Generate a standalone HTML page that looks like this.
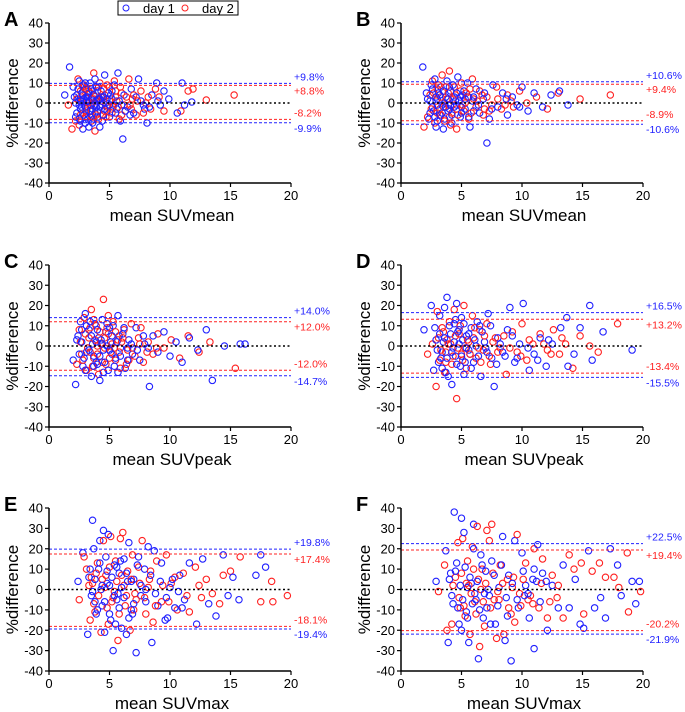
<!DOCTYPE html>
<html><head><meta charset="utf-8"><style>
html,body{margin:0;padding:0;background:#fff;}
svg{display:block;font-family:"Liberation Sans",Arial,sans-serif;}
</style></head><body>
<svg id="fig" width="685" height="712" viewBox="0 0 685 712">
<g>
<rect x="118" y="1" width="120" height="14" fill="#fff" stroke="#000" stroke-width="1"/>
<circle cx="126" cy="8" r="3" fill="none" stroke="#2020ff"/>
<text x="143" y="13" font-size="13">day 1</text>
<circle cx="185" cy="8" r="3" fill="none" stroke="#ff2020"/>
<text x="202" y="13" font-size="13">day 2</text>
</g>
</svg>
<script>
// ---- data ----
const panelLetters=["A","B","C","D","E","F"];
const xTitles=["mean SUVmean","mean SUVmean","mean SUVpeak","mean SUVpeak","mean SUVmax","mean SUVmax"];
const xTicks=[0,5,10,15,20];
const yTicks=[-40,-30,-20,-10,0,10,20,30,40];
const blueUpper=[9.8,10.6,14.0,16.5,19.8,22.5];
const blueLower=[-9.9,-10.6,-14.7,-15.5,-19.4,-21.9];
const redUpper=[8.8,9.4,12.0,13.2,17.4,19.4];
const redLower=[-8.2,-8.9,-12.0,-13.4,-18.1,-20.2];
const aBlue=[[1.3,4],[1.7,18],[2,8],[2.2,-7],[2.4,2],[2.5,11],[2.6,-3],[2.7,5],[2.8,-13],[2.9,0],[3,7],[3.1,-5],[3.2,3],[3.3,-12],[3.4,10],[3.5,-1],[3.6,6],[3.7,-8],[3.8,12],[3.9,1],[4,-4],[4.1,8],[4.2,-12],[4.3,3],[4.5,-6],[4.6,14],[4.7,0],[4.9,5],[5,-7],[5.2,2],[5.4,9],[5.6,-3],[5.7,15],[5.9,-9],[6.1,-18],[6.2,4],[6.5,-2],[6.8,7],[7,-5],[7.4,12],[7.6,1],[7.9,-3],[8.1,-10],[8.5,4],[8.9,10],[9.2,-1],[9.5,6],[9.9,2],[10.6,-5],[11,10],[11.2,-1],[11.8,0.5],[2.3,4],[2.6,-9],[3,-2],[3.3,5],[3.5,2],[3.8,-5],[4,6],[4.4,-1],[2.8,9],[3.6,-10],[4.8,-4],[5.3,-1],[2.5,-1],[3.1,1],[3.9,-2],[4.2,2],[5.1,4],[6,-1],[6.7,-6],[7.2,3],
[2.1,3],[2.3,-5],[2.4,7],[2.5,-8],[2.6,1],[2.7,-2],[2.8,4],[2.9,-6],[3,10],[3.1,3],[3.2,-8],[3.3,1],[3.4,-4],[3.5,7],[3.6,-3],[3.7,4],[3.8,-1],[3.9,8],[4,-7],[4.1,2],[4.2,-2],[4.3,6],[4.5,3],[4.6,-3],[4.8,2],[5,-1],[5.2,6],[5.5,-5],[5.8,1],[6.3,-4],[2.2,0],[2.9,2],[3.4,-7],[4.4,-9],[3,-10],[7.8,-1],[8.3,-2],[9,1]];
const aRed=[[1.6,-1],[1.9,-13],[2.2,-9],[2.4,12],[2.5,-11],[2.7,1],[2.9,9],[3.1,-4],[3.3,6],[3.5,-9],[3.7,15],[3.8,-14],[4,2],[4.2,10],[4.4,-6],[4.6,4],[4.8,-2],[5,8],[5.2,-5],[5.4,11],[5.6,1],[5.8,-8],[6,5],[6.3,-4],[6.6,12],[6.9,2],[7.2,-6],[7.6,6],[8,0],[8.4,-3],[8.8,7],[9.1,3],[9.5,-4],[10.9,-4],[11.5,6],[11.9,7],[13,1.5],[15.3,4],[3,3],[3.4,-1],[4.1,-8],[4.5,7],[5.5,3],[6.2,-1],[7,4],[3.6,0],[2.6,6],[2.8,-5],[3.2,-2],[4.3,1],[5.3,-2],[6.8,-3],
[2.3,2],[2.6,-6],[2.8,8],[3,-7],[3.2,0],[3.4,5],[3.5,-4],[3.7,2],[3.9,-6],[4,6],[4.2,-2],[4.4,3],[4.6,-4],[4.8,9],[5,1],[5.2,-3],[5.5,6],[5.7,-2],[6,-6],[6.4,3],[6.7,-1],[7.3,1],[7.8,-5],[8.2,3],[3.1,7],[3.6,-7],[4.7,-7],[5.9,8]];
const bBlue=[[1.8,18],[2.1,5],[2.3,-8],[2.5,9],[2.6,-2],[2.8,12],[2.9,-12],[3,2],[3.2,-6],[3.3,8],[3.5,-13],[3.6,0],[3.8,11],[3.9,-4],[4.1,6],[4.2,-10],[4.4,3],[4.6,-1],[4.7,13],[4.9,-7],[5.1,4],[5.3,-3],[5.5,10],[5.7,-12],[5.9,1],[6.2,7],[6.5,-5],[6.8,2],[7.1,-20],[7.3,-8],[7.6,9],[8,-2],[8.4,5],[8.8,-6],[9.2,3],[9.6,-1],[10,8],[10.5,-4],[11,5],[11.7,-2],[12.4,4],[13.1,6],[13.8,-1],[2.4,1],[2.7,-4],[3.1,5],[3.4,-1],[3.7,3],[4,-3],[4.5,1],[5,-2],[5.6,3],[6,-4],[3,-9],[4.3,9],[5.2,6],
[2.2,2],[2.4,-5],[2.6,7],[2.8,-7],[3,-1],[3.2,4],[3.4,-5],[3.5,6],[3.7,-2],[3.9,2],[4,8],[4.2,-6],[4.4,-2],[4.6,5],[4.8,1],[5,-5],[5.3,2],[5.6,-7],[6,3],[6.4,-1],[6.9,5],[7.5,-3],[2.9,3],[3.6,-8],[4.1,-1],[4.9,3],[8.7,2],[9.8,-2]];
const bRed=[[1.9,-12],[2.2,-7],[2.4,4],[2.6,11],[2.8,-10],[3,7],[3.2,-3],[3.4,14],[3.6,-9],[3.8,2],[4,16],[4.2,-5],[4.4,8],[4.6,-13],[4.8,1],[5,10],[5.2,-4],[5.4,5],[5.6,-8],[5.9,12],[6.2,-2],[6.5,6],[6.8,-6],[7.1,3],[7.5,-1],[7.9,8],[8.3,-3],[8.8,4],[9.3,-2],[9.8,6],[10.4,0],[11.2,3],[12.1,-3],[13,5],[14.8,2],[17.3,4],[2.9,1],[3.3,-6],[3.9,-1],[4.5,4],[5.3,0],[6,2],[6.9,-3],[3.1,9],[4.1,-11],
[2.5,-3],[2.7,5],[3,-5],[3.3,3],[3.5,-2],[3.7,8],[4,-7],[4.3,2],[4.6,-3],[4.9,6],[5.1,-1],[5.5,3],[5.8,-5],[6.3,1],[6.7,4],[7.3,-4],[8,2],[8.6,-1],[9.1,1],[3.9,5],[4.7,-6],[5.7,7]];
const cBlue=[[2,-7],[2.2,-19],[2.4,5],[2.6,12],[2.8,-10],[3,16],[3.1,-3],[3.3,8],[3.5,-15],[3.6,1],[3.8,11],[3.9,-8],[4.1,4],[4.2,-17],[4.4,13],[4.5,-2],[4.7,7],[4.9,-12],[5.1,2],[5.3,10],[5.5,-6],[5.7,15],[5.9,-1],[6.1,6],[6.3,-11],[6.6,3],[6.9,-4],[7.2,9],[7.5,-7],[7.9,1],[8.3,-20],[8.6,5],[9,-3],[9.5,7],[10,-5],[10.5,2],[11,-8],[11.6,4],[12.3,-2],[13,8],[13.5,-17],[14.5,0],[15.8,1],[16.2,1],[3.2,-1],[3.7,-5],[4.3,3],[4.8,0],[5.2,-4],[5.8,5],[6.5,-1],[2.7,2],[4,-9],[5,9],
[2.3,3],[2.5,-4],[2.7,8],[2.9,-6],[3.1,10],[3.3,-2],[3.5,5],[3.7,-10],[3.9,2],[4,8],[4.2,-5],[4.4,1],[4.6,-8],[4.8,11],[5,-2],[5.2,5],[5.4,-10],[5.6,2],[5.9,-5],[6.2,9],[6.5,-7],[6.8,1],[7.3,-2],[7.8,5],[8.2,-1],[3.4,12],[4.5,-13],[5.7,-13],[3,-12]];
const cRed=[[2.3,-9],[2.5,8],[2.7,-4],[2.9,14],[3.1,-12],[3.3,4],[3.5,18],[3.7,-6],[3.9,10],[4.1,-14],[4.3,1],[4.5,23],[4.7,-9],[4.9,6],[5.1,-3],[5.3,12],[5.5,-7],[5.7,3],[5.9,-11],[6.2,8],[6.5,-2],[6.8,11],[7.1,-5],[7.4,4],[7.8,-8],[8.2,2],[8.6,-4],[9,6],[9.5,-1],[10.1,3],[10.8,-6],[11.5,5],[12.4,-3],[13.3,2],[15.4,-11],[4,0],[4.6,4],[5.4,-1],[6,2],[3.4,-3],[6.6,-7],[7.6,9],
[2.6,2],[2.8,-7],[3,6],[3.2,-1],[3.4,9],[3.6,-10],[3.8,3],[4,-4],[4.2,7],[4.4,-8],[4.6,-1],[4.8,9],[5,-6],[5.2,1],[5.5,7],[5.8,-3],[6.1,4],[6.4,-9],[6.9,-1],[7.5,1],[8.1,-3],[8.9,-1],[4.9,15],[3.7,13]];
const dBlue=[[1.9,8],[2.5,20],[2.7,-12],[2.9,3],[3.1,-8],[3.2,15],[3.4,-3],[3.6,19],[3.8,24],[3.9,-15],[4.1,6],[4.2,-19],[4.4,11],[4.5,-5],[4.6,21],[4.8,1],[4.9,-10],[5,14],[5.2,-14],[5.4,5],[5.6,-2],[5.8,9],[6,-8],[6.3,12],[6.6,-15],[6.9,2],[7.2,16],[7.5,-6],[7.7,-20],[8,4],[8.4,-3],[8.8,8],[9,19],[9.4,-8],[9.8,1],[10.1,21],[10.6,-12],[11,-4],[11.5,4],[12,-10],[12.5,1],[13.2,9],[13.7,14],[13.8,-10],[14.3,-4],[14.8,9],[15.6,20],[15.8,-7],[16.7,7],[19.1,-2],[3.5,2],[4.3,-1],[5.1,3],[5.7,-4],[6.2,0],[4.7,7],[3.3,-6],[7,-1],
[2.8,9],[3,-2],[3.2,6],[3.4,-11],[3.6,4],[3.8,-6],[4,10],[4.2,-3],[4.4,2],[4.6,-9],[4.8,8],[5,-5],[5.2,11],[5.4,-1],[5.6,6],[5.8,-11],[6.1,3],[6.4,-5],[6.7,7],[7.1,-3],[7.4,10],[7.9,-9],[8.2,1],[8.6,-5],[9.2,5],[9.6,-6],[3.7,-13],[4.5,13],[5.3,-8],[6.5,10],[10.5,-1],[11.3,-7],[12.2,3]];
const dRed=[[2.2,-4],[2.6,1],[2.9,-20],[3,17],[3.2,-7],[3.4,9],[3.6,-13],[3.8,3],[4,12],[4.2,-9],[4.4,18],[4.6,-26],[4.8,6],[5,-4],[5.2,20],[5.4,-11],[5.6,2],[5.9,15],[6.2,-6],[6.5,8],[6.8,-2],[7.1,11],[7.4,-9],[7.8,4],[8.2,-1],[8.7,-14],[9.2,7],[9.6,-3],[10,11],[10.4,-7],[10.9,1],[11.5,6],[12.1,-2],[12.6,8],[13.1,-4],[13.6,1],[14.2,-11],[14.8,5],[15.6,0],[16.3,-3],[17.9,11],[4.1,1],[5.3,-1],[6,4],[3.7,-3],[6.6,-8],
[3.1,4],[3.3,-2],[3.5,7],[3.7,-8],[3.9,1],[4.3,-5],[4.5,5],[4.7,-1],[4.9,10],[5.1,-7],[5.5,3],[5.7,-4],[6.1,9],[6.4,-1],[6.9,5],[7.3,-5],[7.6,2],[8,-3],[8.5,5],[9,-1],[9.9,-5],[10.6,3],[11.8,1],[12.4,-4],[13.3,4]];
const eBlue=[[2.4,4],[2.8,18],[3.2,-22],[3.3,6],[3.5,-3],[3.7,20],[3.9,-12],[4.1,10],[4.2,24],[4.4,-8],[4.5,29],[4.6,-21],[4.8,3],[4.9,27],[5.1,-15],[5.3,-30],[5.4,12],[5.6,-5],[5.8,8],[6,-19],[6.2,15],[6.4,-22],[6.6,23],[6.8,-10],[7,5],[7.2,-31],[7.4,16],[7.6,-3],[7.9,10],[8.2,21],[8.5,-26],[8.7,19],[9,-8],[9.3,13],[9.6,-15],[10,1],[10.4,-9],[10.8,7],[11.2,-5],[11.6,13],[12.2,-17],[12.7,15],[13.2,-7],[13.8,-13],[14.4,17],[14.8,-3],[15.2,6],[15.7,-5],[17.1,7],[17.5,17],[17.9,11],[4.3,0],[5,2],[5.7,-2],[6.5,4],[3.8,-6],[8,0],[9.8,-14],[3.6,34],
[3.4,10],[3.6,-1],[3.8,5],[4,-10],[4.2,13],[4.4,2],[4.6,-6],[4.8,9],[5,-12],[5.2,6],[5.4,-3],[5.6,11],[5.8,-9],[6,1],[6.2,-4],[6.4,8],[6.6,-14],[6.8,4],[7,-7],[7.3,12],[7.6,2],[8,-6],[8.4,7],[8.8,-2],[9.2,4],[9.7,-4],[10.2,5],[10.7,-1],[11,-9],[4.7,16],[5.5,-17],[6.9,-12],[5.9,14]];
const eRed=[[2.5,-5],[2.9,16],[3.1,10],[3.4,-15],[3.6,3],[3.8,-11],[4,13],[4.3,-21],[4.5,24],[4.7,7],[4.9,-17],[5.1,26],[5.3,-4],[5.5,14],[5.7,-25],[5.9,25],[6.1,28],[6.3,-8],[6.5,9],[6.7,-20],[6.9,17],[7.1,-2],[7.4,11],[7.7,24],[8,-12],[8.3,5],[8.6,-16],[8.9,14],[9.3,-6],[9.7,17],[10.1,3],[10.6,-10],[11.1,8],[11.6,-11],[12.1,11],[12.6,-4],[13,5],[13.5,-2],[14.1,-7],[14.4,7],[15,9],[15.8,16],[17.5,-6],[18.4,4],[18.5,-6],[19.7,-3],[4.6,1],[5.4,-1],[6.2,2],[7.2,-5],[8.2,1],[3.5,6],
[3.3,2],[3.7,-7],[3.9,8],[4.1,-3],[4.4,5],[4.8,-9],[5,11],[5.2,-6],[5.6,4],[5.8,-12],[6,7],[6.4,-3],[6.8,5],[7,-10],[7.5,3],[7.9,-4],[8.4,9],[8.8,-8],[9.4,2],[9.9,-6],[10.4,6],[11.4,-3],[12.4,2]];
const fBlue=[[2.9,4],[3.7,19],[3.9,-26],[4.1,8],[4.3,-7],[4.4,38],[4.6,13],[4.8,-17],[5,35],[5.2,28],[5.4,-11],[5.6,-26],[5.8,3],[6,32],[6.2,-5],[6.4,-34],[6.6,17],[6.8,-14],[7,9],[7.3,-3],[7.5,14],[7.8,-17],[8.1,1],[8.4,26],[8.6,-25],[8.9,7],[9.1,-35],[9.4,24],[9.7,-9],[10,18],[10.3,2],[10.6,-14],[10.9,5],[11,-29],[11.3,22],[11.7,8],[12.1,-20],[12.5,2],[13,-9],[13.4,12],[13.9,-9],[14.4,5],[14.8,-17],[15.1,-19],[15.5,19],[16,-9],[16.5,-4],[16.9,-14],[17.3,20],[17.9,12],[18.2,-3],[19.1,4],[19.4,-7],[19.7,4],[5.5,1],[6.1,-2],[7.2,0],[8.7,-4],[10.2,-3],[11.2,4],
[4,5],[4.2,-3],[4.5,9],[4.7,-9],[4.9,2],[5.1,-5],[5.3,11],[5.5,-14],[5.7,6],[5.9,-7],[6.3,4],[6.5,-10],[6.7,12],[6.9,-2],[7.1,-9],[7.7,7],[8,-8],[8.3,12],[8.8,-13],[9.2,3],[9.6,-5],[10.1,9],[10.5,-2],[11,10],[11.5,-6],[12,4],[5,-20],[6,20],[7.4,-17]];
const fRed=[[3.1,-1],[3.6,12],[3.8,-20],[4.2,-17],[4.5,6],[4.7,23],[4.9,-9],[5.1,25],[5.3,-13],[5.5,14],[5.7,-22],[5.9,21],[6.1,-6],[6.3,31],[6.5,-28],[6.7,10],[6.9,-18],[7.1,29],[7.3,24],[7.5,32],[7.7,-5],[7.9,-24],[8.2,12],[8.5,-22],[8.8,5],[9.1,-12],[9.4,-16],[9.6,27],[9.9,-8],[10.3,13],[10.7,-3],[11,20],[11.4,-9],[11.7,15],[12.1,-14],[12.5,7],[12.9,-4],[13.4,-14],[13.9,17],[14.3,10],[14.9,13],[15.1,-12],[15.8,9],[16.4,13],[16.9,6],[17.6,6],[18,1],[18.7,18],[18.8,-11],[19.8,-1],[5.6,2],[6.6,0],[8,-1],[9.2,1],[10.5,-5],
[4.3,2],[4.8,-4],[5,8],[5.2,-8],[5.4,3],[5.8,-2],[6,10],[6.2,-12],[6.4,5],[6.8,-6],[7,3],[7.4,-9],[7.6,8],[8.1,-5],[8.4,3],[8.9,-9],[9.3,6],[9.8,-2],[10.1,5],[10.9,-7],[11.6,3],[12.3,-6],[13,2]];
const blueSeries=[aBlue,bBlue,cBlue,dBlue,eBlue,fBlue];
const redSeries=[aRed,bRed,cRed,dRed,eRed,fRed];

// ---- layout ----
const colX=[[49,291],[401,643]];
const rowY=[[23,183],[265,427],[508,671]];
const BLUE="#2020ff",RED="#ff2020";
const NS="http://www.w3.org/2000/svg";
const svg=document.getElementById("fig");
function mk(tag,attrs,parent){const e=document.createElementNS(NS,tag);for(const k in attrs)e.setAttribute(k,attrs[k]);(parent||svg).appendChild(e);return e;}

for(let p=0;p<6;p++){
  const [x0,x1]=colX[p%2],[yt,yb]=rowY[Math.floor(p/2)];
  const sx=v=>x0+(v-0)/20*(x1-x0);
  const sy=v=>yb-(v+40)/80*(yb-yt);
  const g=mk("g",{});
  
  
  const letter=mk("text",{x:x0-45,y:yt+3,"font-size":20,"font-weight":"bold"},g);
  letter.textContent=panelLetters[p];
  
  
  const pts=mk("g",{},g);
  
  
  const b=blueSeries[p],r=redSeries[p];
  const n=Math.max(b.length,r.length);
  for(let i=0;i<n;i++){
    if(i<b.length){const c=mk("circle",{cx:sx(b[i][0]),cy:sy(b[i][1]),r:3.2,fill:"none",stroke:BLUE,"stroke-width":1.1},pts);
      
      }
    if(i<r.length){const c=mk("circle",{cx:sx(r[i][0]),cy:sy(r[i][1]),r:3.2,fill:"none",stroke:RED,"stroke-width":1.1},pts);
      
      }
  }
  const lines=[[blueUpper[p],BLUE,"loa-upper-day1"],[redUpper[p],RED,"loa-upper-day2"],[blueLower[p],BLUE,"loa-lower-day1"],[redLower[p],RED,"loa-lower-day2"]];
  for(const [v,col,nm] of lines){
    const l=mk("line",{x1:x0,x2:x1,y1:sy(v),y2:sy(v),stroke:col,"stroke-width":1,"stroke-dasharray":"3,2"},g);
    
    
  }
  const z=mk("line",{x1:x0,x2:x1,y1:sy(0),y2:sy(0),stroke:"#000","stroke-width":1.5,"stroke-dasharray":"2,2.5"},g);
  
  
  const fmt=v=>(v>0?"+":"")+v.toFixed(1)+"%";
  const up=[[blueUpper[p],BLUE],[redUpper[p],RED]].sort((a,b)=>b[0]-a[0]);
  const lo=[[blueLower[p],BLUE],[redLower[p],RED]].sort((a,b)=>b[0]-a[0]);
  const labs=[[up[0],sy(up[0][0])-3],[up[1],sy(up[1][0])+9],[lo[0],sy(lo[0][0])-3],[lo[1],sy(lo[1][0])+9]];
  for(const [[v,col],y] of labs){
    const t=mk("text",{x:x1+3,y:y,"font-size":10.5,fill:col},g);
    t.textContent=fmt(v);
    
    
  }
  const ax=mk("path",{d:`M${x0},${yt} V${yb} H${x1}`,fill:"none",stroke:"#000","stroke-width":1.5},g);
  
  
  for(const v of yTicks){
    const tk=mk("line",{x1:x0-4,x2:x0,y1:sy(v),y2:sy(v),stroke:"#000","stroke-width":1.2},g);
    
    
    const t=mk("text",{x:x0-6,y:sy(v)+4.5,"font-size":13,"text-anchor":"end"},g);
    t.textContent=v;
    
    
  }
  for(const v of xTicks){
    const tk=mk("line",{x1:sx(v),x2:sx(v),y1:yb,y2:yb+4,stroke:"#000","stroke-width":1.2},g);
    
    
    const t=mk("text",{x:sx(v),y:yb+17,"font-size":13,"text-anchor":"middle"},g);
    t.textContent=v;
    
    
  }
  const xt=mk("text",{x:(x0+x1)/2+2,y:yb+38,"font-size":17,"text-anchor":"middle"},g);
  xt.textContent=xTitles[p];
  
  
  const yl=mk("text",{x:0,y:0,"font-size":17,"text-anchor":"middle",transform:`translate(${x0-31},${(yt+yb)/2}) rotate(-90)`},g);
  yl.textContent="%difference";
  
  
}
</script>
</body></html>
